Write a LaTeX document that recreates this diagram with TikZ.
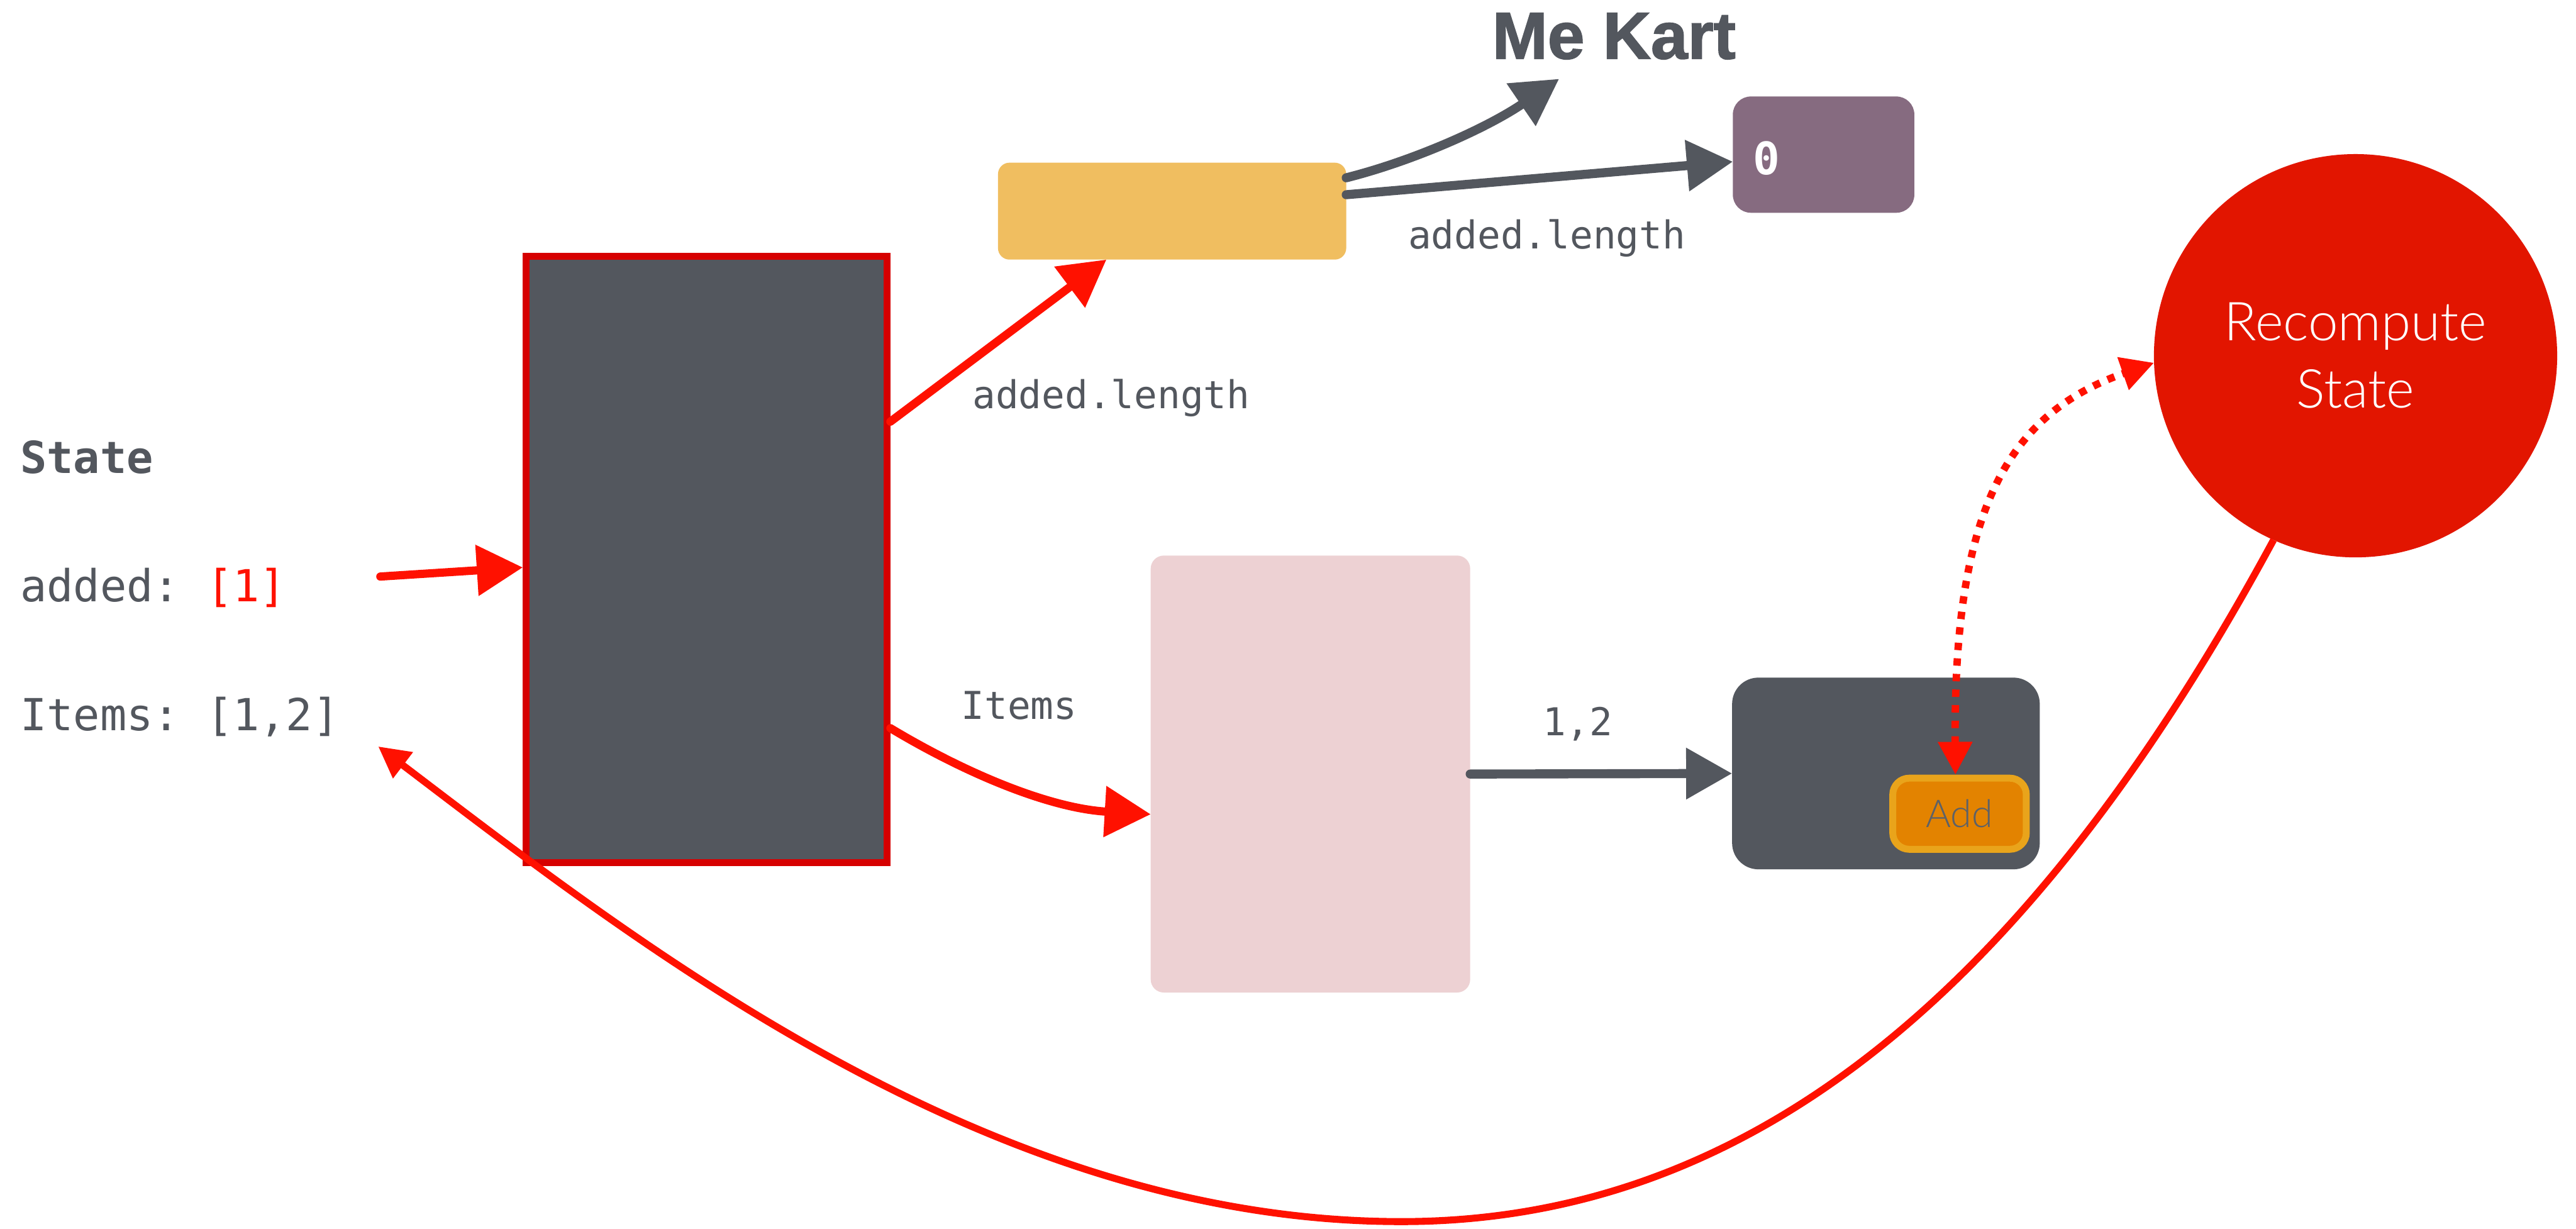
\documentclass[tikz,border=0pt]{standalone}
\usepackage{fontspec}
\setmonofont{DejaVu Sans Mono}
\newfontfamily\headfont{Liberation Sans}[BoldFeatures={FakeBold=1.6}]
\newfontfamily\thinsans{Lato Light}
\usetikzlibrary{arrows.meta}

\definecolor{slate}{HTML}{53575E}
\definecolor{boxred}{HTML}{D60000}
\definecolor{arrred}{HTML}{FF1100}
\definecolor{circred}{HTML}{E21500}
\definecolor{kyellow}{HTML}{F0BE60}
\definecolor{kpurple}{HTML}{866B80}
\definecolor{kpink}{HTML}{EDD1D3}
\definecolor{addfill}{HTML}{E38300}
\definecolor{addedge}{HTML}{E9A41B}
\definecolor{addtext}{HTML}{5C6168}

\tikzset{
  panel/.style={inner sep=0pt, outer sep=0pt},
  codelabel/.style={anchor=base west, inner sep=0pt, text=slate,
    font=\ttfamily\fontsize{13.3}{16}\selectfont},
  statetext/.style={anchor=base west, inner sep=0pt, text=slate,
    font=\ttfamily\fontsize{15.3}{18}\selectfont},
  redbrush/.style={draw=arrred, line width=0.1cm, line cap=round,
    -{Triangle[length=0.56cm,width=0.6cm]}},
  greybrush/.style={draw=slate, line width=0.11cm, line cap=round,
    -{Triangle[length=0.56cm,width=0.6cm]}},
  returnline/.style={draw=arrred, line width=0.085cm,
    -{Triangle[length=0.38cm,width=0.38cm]}},
  dotarrow/.style={draw=arrred, line width=0.09cm,
    dash pattern=on 0.09cm off 0.1cm,
    {Triangle[length=0.4cm,width=0.4cm]}-{Triangle[length=0.4cm,width=0.4cm]}},
}

\begin{document}
\begin{tikzpicture}[x=0.02cm, y=-0.02cm]
\fill[white] (0,0) rectangle (1568,748);
\useasboundingbox (0,0) rectangle (1568,748);

% state panel on the left
\node[statetext, font=\ttfamily\bfseries\fontsize{15.3}{18}\selectfont] (statehead) at (12,288) {State};
\node[statetext] (addedline) at (12,366) {added: \textcolor{arrred}{[1]}};
\node[statetext] (itemsline) at (12,444.5) {Items: [1,2]};

% components
\node[draw=boxred, line width=0.084cm, fill=slate, minimum width=4.392cm,
      minimum height=7.382cm, inner sep=0pt] (main) at (430.1,340.35) {};
\node[panel, fill=kyellow, rounded corners=0.14cm, minimum width=4.24cm,
      minimum height=1.18cm] (yellow) at (713.45,128.5) {};
\node[panel, fill=kpurple, rounded corners=0.22cm, minimum width=2.21cm,
      minimum height=1.416cm] (purple) at (1110,94.1) {};
\node[anchor=base west, inner sep=0pt, text=white,
      font=\ttfamily\bfseries\fontsize{15.5}{18}\selectfont] (zero) at (1066.6,106.3) {0};
\node[panel, fill=kpink, rounded corners=0.16cm, minimum width=3.89cm,
      minimum height=5.32cm] (pink) at (797.65,471.1) {};
\node[panel, fill=slate, rounded corners=0.32cm, minimum width=3.746cm,
      minimum height=2.334cm] (dark) at (1147.95,470.75) {};
\node[draw=addedge, line width=0.084cm, fill=addfill, rounded corners=0.2cm,
      minimum width=1.626cm, minimum height=0.866cm, inner sep=0pt,
      text=addtext, font=\thinsans\fontsize{13.3}{16}\selectfont] (add) at (1192.75,495.25) {Add};
\node[circle, fill=circred, minimum size=4.91cm, inner sep=0pt, outer sep=0pt,
      text=white, align=center,
      font=\thinsans\fontsize{18.6}{23.3}\selectfont] (rc) at (1433.8,216.5) {Recompute\\State};

% title
\node[anchor=base west, inner sep=0pt, text=slate,
      font=\headfont\bfseries\fontsize{23}{27}\selectfont] (mekart) at (908,35.7) {Me Kart};

% labels
\node[codelabel] (lenlow) at (591.6,248.6) {added.length};
\node[codelabel] (lenhigh) at (856.8,151.5) {added.length};
\node[codelabel] (itemslabel) at (584.8,437.7) {Items};
\node[codelabel] (pairlabel) at (938.9,447.5) {1,2};

% free ends
\coordinate (instart) at (231.5,350.9);
\coordinate (mktip) at (949,48);
\coordinate (loopend) at (230.2,454.3);

% connectors
\draw[redbrush] (instart) -- ([yshift=-0.1cm]main.west);
\draw[redbrush] ([yshift=1.675cm]main.east) -- ([xshift=-0.8cm]yellow.south);
\draw[redbrush] ([yshift=-2.057cm]main.east) .. controls (590,472) and (640,492) .. ([yshift=-0.49cm]pink.west);
\draw[greybrush] ([yshift=0.406cm]yellow.east) .. controls (860,98) and (905,78) .. (mktip);
\draw[greybrush] ([yshift=0.2cm]yellow.east) -- ([yshift=-0.086cm]purple.west);
\draw[greybrush] (pink.east) -- (dark.west);
\draw[dotarrow] ([xshift=-0.05cm]add.north) .. controls (1189,310) and (1222,252) .. (rc.182.7);
\draw[returnline] (rc.246) .. controls (1226.8,619) and (1053,743.5) .. (853,743.5)
  .. controls (603,743.5) and (389.4,575.3) .. (loopend);
\end{tikzpicture}
\end{document}
